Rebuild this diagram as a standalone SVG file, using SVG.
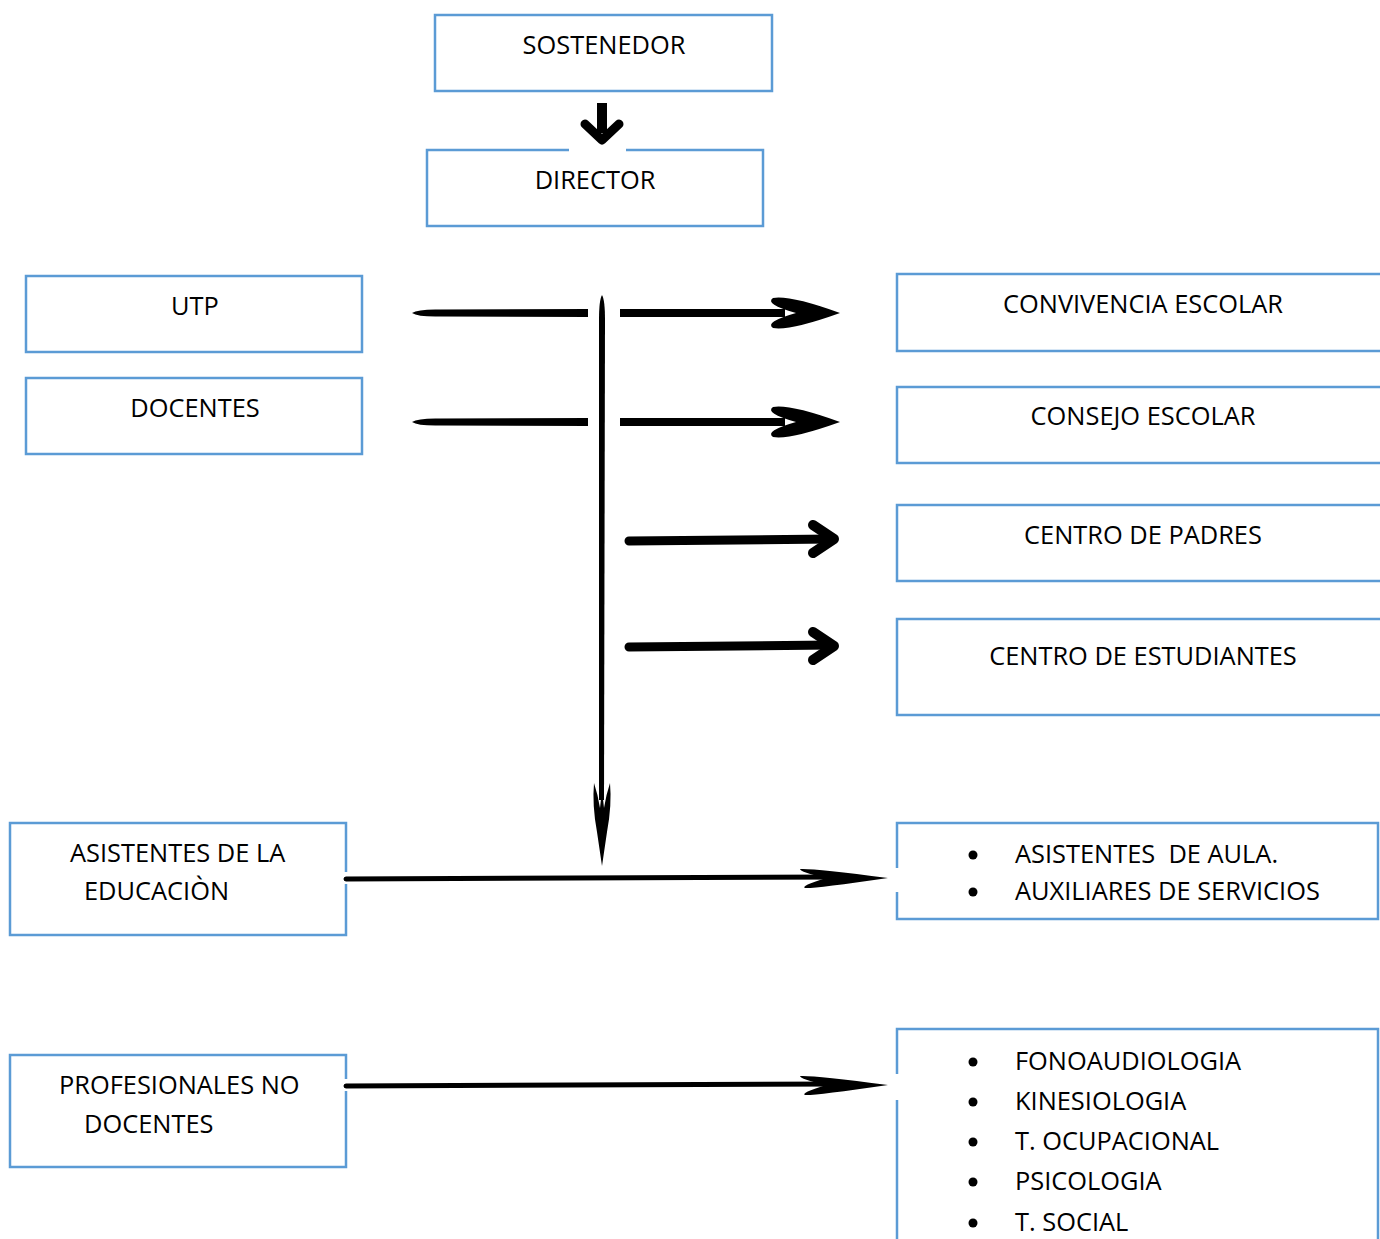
<svg xmlns="http://www.w3.org/2000/svg" width="1380" height="1239" viewBox="0 0 1380 1239">
<style>
.box{fill:#fff;stroke:#5B9BD5;stroke-width:2.5}
.t{font-family:"Open Sans","Liberation Sans",sans-serif;font-size:25.4px;fill:#000}
.c{text-anchor:middle}
.ink{fill:#000}
.chev{fill:none;stroke:#000;stroke-linecap:round;stroke-linejoin:round}
.gap{fill:#fff}
</style>
<rect width="1380" height="1239" fill="#fff"/>
<g id="sostenedor"><rect class="box" x="435" y="15" width="337" height="76"/><text class="t c" x="604" y="54">SOSTENEDOR</text></g>
<g id="director"><rect class="box" x="427" y="150" width="336" height="76"/><text class="t c" x="595" y="189">DIRECTOR</text></g>
<g id="utp"><rect class="box" x="26" y="276" width="336" height="76"/><text class="t c" x="195" y="315">UTP</text></g>
<g id="docentes"><rect class="box" x="26" y="378" width="336" height="76"/><text class="t c" x="195" y="417">DOCENTES</text></g>
<g id="convivencia"><rect class="box" x="897" y="274" width="500" height="77"/><text class="t c" x="1143" y="313">CONVIVENCIA ESCOLAR</text></g>
<g id="consejo"><rect class="box" x="897" y="387" width="500" height="76"/><text class="t c" x="1143" y="425">CONSEJO ESCOLAR</text></g>
<g id="padres"><rect class="box" x="897" y="505" width="500" height="76"/><text class="t c" x="1143" y="544">CENTRO DE PADRES</text></g>
<g id="estudiantes"><rect class="box" x="897" y="619" width="500" height="96"/><text class="t c" x="1143" y="665">CENTRO DE ESTUDIANTES</text></g>
<g id="asistentes"><rect class="box" x="10" y="823" width="336" height="112"/><text class="t" x="70" y="862">ASISTENTES DE LA</text><text class="t" x="84" y="900">EDUCACIÒN</text></g>
<g id="asistentes-lista"><rect class="box" x="897" y="823" width="481" height="96"/>
<circle class="ink" cx="973" cy="855" r="4.5"/><text class="t" x="1015" y="863" xml:space="preserve">ASISTENTES  DE AULA.</text>
<circle class="ink" cx="973" cy="892" r="4.5"/><text class="t" x="1015" y="900">AUXILIARES DE SERVICIOS</text></g>
<g id="profesionales"><rect class="box" x="10" y="1055" width="336" height="112"/><text class="t" x="59" y="1094">PROFESIONALES NO</text><text class="t" x="84" y="1133">DOCENTES</text></g>
<g id="profesionales-lista"><rect class="box" x="897" y="1029" width="481" height="240"/>
<circle class="ink" cx="973" cy="1062" r="4.5"/><text class="t" x="1015" y="1070">FONOAUDIOLOGIA</text>
<circle class="ink" cx="973" cy="1102" r="4.5"/><text class="t" x="1015" y="1110">KINESIOLOGIA</text>
<circle class="ink" cx="973" cy="1142" r="4.5"/><text class="t" x="1015" y="1150">T. OCUPACIONAL</text>
<circle class="ink" cx="973" cy="1182" r="4.5"/><text class="t" x="1015" y="1190">PSICOLOGIA</text>
<circle class="ink" cx="973" cy="1223" r="4.5"/><text class="t" x="1015" y="1231">T. SOCIAL</text></g>
<g id="connectors">
<rect class="gap" x="569" y="145" width="57" height="7"/>
<rect class="gap" x="344" y="872" width="5" height="12"/>
<rect class="gap" x="894" y="868" width="5" height="24"/>
<rect class="gap" x="344" y="1079" width="5" height="12"/>
<rect class="gap" x="894" y="1074" width="5" height="26"/>
<rect class="ink" x="597" y="103" width="10" height="30"/>
<path class="chev" stroke-width="9" d="M585,124 L602,140 L619,124"/>
<path class="ink" d="M602,295 Q605,300 605,320 L604,800 L599,800 L599,320 Q599,300 602,295 Z"/>
<path class="ink" d="M602,866 L597,832 Q592,805 594,783 Q598,795 600,808 L602,790 L604,808 Q606,795 610,783 Q612,805 607,832 Z"/>
<path class="ink" d="M412,313 Q418,309 440,309.5 L588,309 L588,317 L440,316.5 Q418,317 412,313 Z"/>
<rect class="ink" x="620" y="309" width="165" height="8"/>
<path class="ink" d="M773,298 Q790,295 840,313 Q790,331 773,328 Q764,322 796,313 Q764,304 773,298 Z"/>
<path class="ink" d="M412,422 Q418,418 440,418.5 L588,418 L588,426 L440,425.5 Q418,426 412,422 Z"/>
<rect class="ink" x="620" y="418" width="165" height="8"/>
<path class="ink" d="M773,407 Q790,404 840,422 Q790,440 773,437 Q764,431 796,422 Q764,413 773,407 Z"/>
<path class="chev" stroke-width="9" d="M629,541 L832,539"/>
<path class="chev" stroke-width="10" d="M813,525 L834,539 L813,553"/>
<path class="chev" stroke-width="9" d="M629,647 L832,645"/>
<path class="chev" stroke-width="10" d="M813,632 L834,646 L813,660"/>
<path class="chev" stroke-width="5" d="M346,879 L840,877"/>
<path class="ink" d="M800,869 Q812,868 888,878 Q812,889 805,888 Q800,886 826,878 Q800,872 800,869 Z"/>
<path class="chev" stroke-width="5" d="M346,1086 L840,1084"/>
<path class="ink" d="M800,1076 Q812,1075 888,1085 Q812,1096 805,1095 Q800,1093 826,1085 Q800,1079 800,1076 Z"/>
</g>
</svg>
